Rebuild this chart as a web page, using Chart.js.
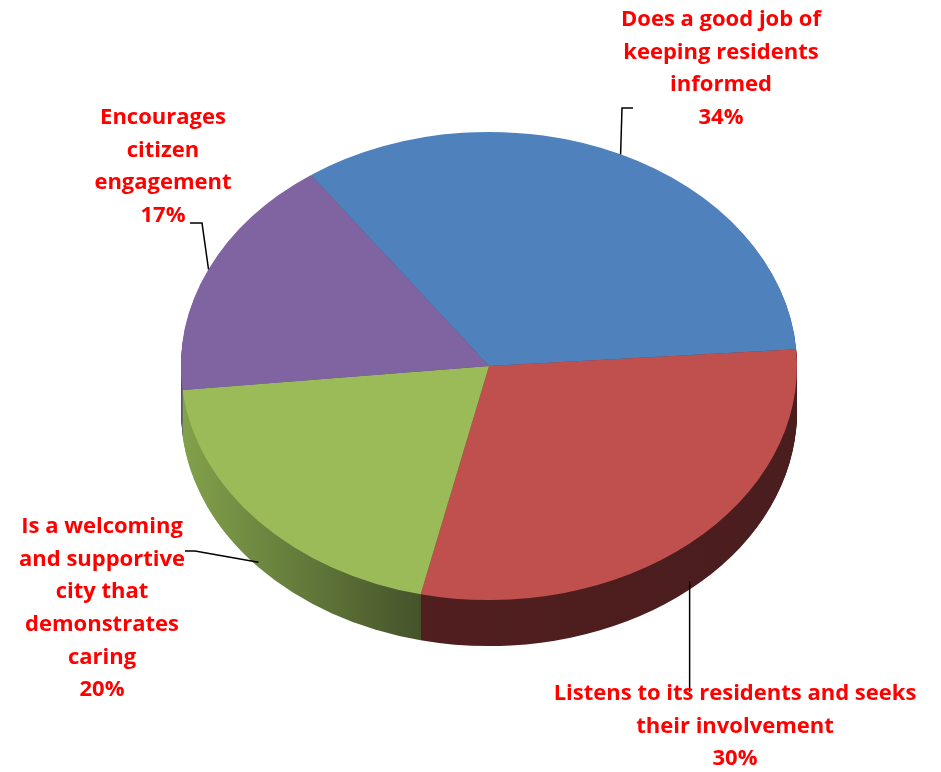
<!DOCTYPE html>
<html>
<head>
<meta charset="utf-8">
<script src="https://cdn.jsdelivr.net/npm/chart.js@4.4.1/dist/chart.umd.min.js"></script>
<style>
  html, body { margin: 0; padding: 0; background: #ffffff; }
  #wrap { width: 941px; height: 772px; position: relative; }
</style>
</head>
<body>
<div id="wrap"><canvas id="pie" width="941" height="772"></canvas></div>
<script>
// Survey answers and their shares (percent)
const categories = [
  ['Does a good job of', 'keeping residents', 'informed'],
  ['Listens to its residents and seeks', 'their involvement'],
  ['Is a welcoming', 'and supportive', 'city that', 'demonstrates', 'caring'],
  ['Encourages', 'citizen', 'engagement']
];
const values = [34, 30, 20, 17];

// Face colours and the darker shades used for the rim
const faceColors = ['#4f81bd', '#c0504d', '#9bbb59', '#8064a2'];
const rimColors = [
  ['#3b618f', '#2f4f77'],
  ['#561f20', '#4a1d1e'],
  ['#82a24b', '#44512a'],
  ['#604a7c', '#4c3b63']
];

// Label placement: centre x, first line y, elbow of the leader line, drop of the anchor onto the rim
const labelLayout = [
  { x: 721, y: 20, elbow: [[622, 108], [633, 108]], drop: 0 },
  { x: 735, y: 694, elbow: null, vertical: 692, drop: 38 },
  { x: 102, y: 527, elbow: [[195, 551], [185, 551]], drop: 41 },
  { x: 163, y: 118, elbow: [[202, 223], [190, 223]], drop: 0 }
];

const TILT = 0.76;     // vertical squash of the pie
const DEPTH = 46;      // rim thickness in pixels
const LINE_H = 32.6;

function tiltAbout(ctx, cy) {
  ctx.translate(0, cy);
  ctx.scale(1, TILT);
  ctx.translate(0, -cy);
}

const pie3d = {
  id: 'pie3d',
  beforeDatasetsDraw(chart) {
    const ctx = chart.ctx;
    const arcs = chart.getDatasetMeta(0).data;
    const cx = arcs[0].x, cy = arcs[0].y, r = arcs[0].outerRadius;
    ctx.save();
    tiltAbout(ctx, cy);
    const grads = arcs.map((a, i) => {
      const g = ctx.createLinearGradient(cx - r, 0, cx + r, 0);
      g.addColorStop(0, rimColors[i][0]);
      g.addColorStop(i === 2 ? 0.4 : 1, rimColors[i][1]);
      if (i === 2) g.addColorStop(1, rimColors[i][1]);
      return g;
    });
    // stack the rim from the bottom up
    for (let d = DEPTH; d >= 1; d -= 1) {
      const off = d / TILT;
      arcs.forEach((a, i) => {
        ctx.beginPath();
        ctx.moveTo(a.x, a.y + off);
        ctx.arc(a.x, a.y + off, a.outerRadius, a.startAngle, a.endAngle);
        ctx.closePath();
        ctx.fillStyle = grads[i];
        ctx.fill();
      });
    }
  },
  afterDatasetsDraw(chart) {
    chart.ctx.restore();
  },
  afterDraw(chart) {
    const ctx = chart.ctx;
    const arcs = chart.getDatasetMeta(0).data;
    ctx.save();
    // leader lines
    ctx.strokeStyle = '#000000';
    ctx.lineWidth = 1.5;
    arcs.forEach((a, i) => {
      const L = labelLayout[i];
      const mid = (a.startAngle + a.endAngle) / 2;
      const ax = a.x + a.outerRadius * Math.cos(mid);
      const ay = a.y + TILT * a.outerRadius * Math.sin(mid) + L.drop;
      ctx.beginPath();
      ctx.moveTo(ax, ay);
      if (L.elbow) {
        L.elbow.forEach(p => ctx.lineTo(p[0], p[1]));
      } else {
        ctx.lineTo(ax, L.vertical);
      }
      ctx.stroke();
    });
    // labels
    ctx.fillStyle = '#ff0000';
    ctx.font = 'bold 22px "Open Sans", Lato, sans-serif';
    ctx.textAlign = 'center';
    ctx.textBaseline = 'middle';
    categories.forEach((lines, i) => {
      const L = labelLayout[i];
      const all = lines.concat([values[i] + '%']);
      all.forEach((t, j) => ctx.fillText(t, L.x, L.y + j * LINE_H));
    });
    ctx.restore();
  }
};

new Chart(document.getElementById('pie'), {
  type: 'pie',
  data: {
    labels: categories.map(c => c.join(' ')),
    datasets: [{
      data: values,
      backgroundColor: faceColors,
      borderWidth: 0,
      clip: false
    }]
  },
  options: {
    responsive: false,
    animation: false,
    rotation: -35.3,
    layout: { padding: { left: 181, right: 144, top: 58, bottom: 98 } },
    plugins: {
      legend: { display: false },
      tooltip: { enabled: false }
    },
    events: []
  },
  plugins: [pie3d]
});
</script>
</body>
</html>
